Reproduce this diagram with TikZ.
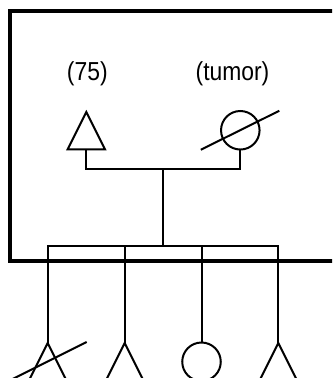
\documentclass[tikz,border=0pt]{standalone}
\usepackage{fontspec}
\setmainfont{Liberation Sans}
\newfontfamily\notefont{Liberation Sans}[FakeStretch=0.88]
\usetikzlibrary{shapes.geometric}

\begin{document}
\begin{tikzpicture}[x=0.75pt,y=-0.75pt,line width=1.5pt,
    male/.style={draw,isosceles triangle,shape border rotate=90,
      isosceles triangle stretches,minimum width=28.1pt,minimum height=28.1pt,
      inner sep=0pt,outer sep=0pt,anchor=apex},
    female/.style={draw,circle,minimum size=28.9pt,inner sep=0pt,
      outer sep=0pt,anchor=north},
    note/.style={font=\notefont\fontsize{19.5}{22}\selectfont,anchor=base,inner sep=0pt}]
  \useasboundingbox (0,0) rectangle (332,378);
  \clip (0,0) rectangle (332,378);
  \draw[line width=3pt] (345,11.2) -| (9.5,261) -- (345,261);
  \node[male] (f) at (86.3,112) {};
  \node[female] (m) at (240.3,111) {};
  \node[note] (lf) at (87.3,80) {(75)};
  \node[note] (lm) at (232.5,80) {(tumor)};
  \coordinate (couple) at (163,169.3);
  \coordinate (sibs) at (163,246);
  \node[male] (s1) at (47.7,343) {};
  \node[male] (s2) at (124.7,343) {};
  \node[female] (s3) at (201.5,342.5) {};
  \node[male] (s4) at (278.3,343) {};
  \draw (f.lower side) |- (couple) -| (m.south);
  \draw (couple) -- (sibs);
  \draw (s1.apex) |- (sibs) -| (s4.apex);
  \draw (s2.apex) -- (s2.apex |- sibs);
  \draw (s3.north) -- (s3.north |- sibs);
  % deceased
  \draw ([shift={(-39.5,19.5)}]m.center) -- ([shift={(39,-19.5)}]m.center);
  \draw ([shift={(-39,38)}]s1.apex) -- ([shift={(39,-1)}]s1.apex);
\end{tikzpicture}
\end{document}
